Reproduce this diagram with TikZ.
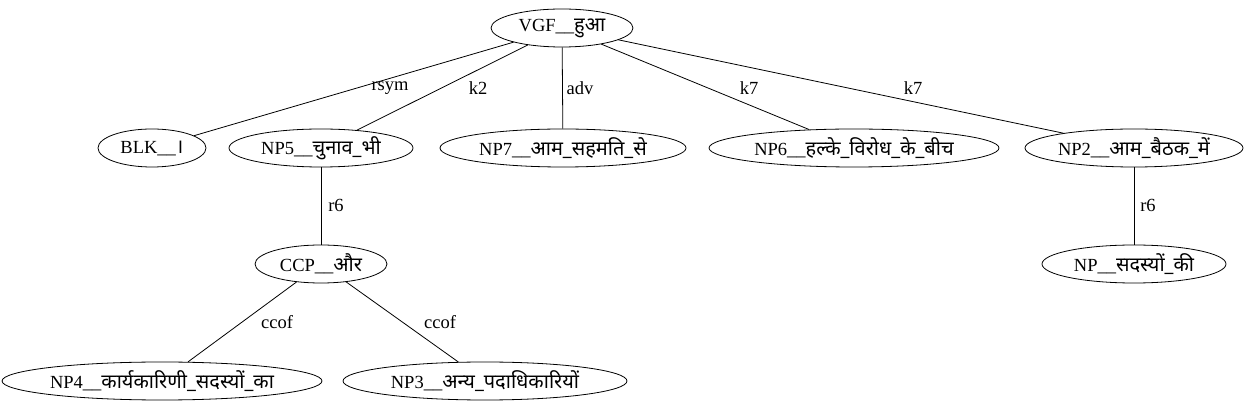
\documentclass[tikz,border=0pt]{standalone}
\usepackage{fontspec}
\setmainfont{Liberation Serif}
\newfontfamily\dev[Script=Devanagari,Scale=1.08]{Noto Sans}
\usetikzlibrary{shapes.geometric}
\tikzset{
  tn/.style={ellipse,draw,line width=0.8pt,inner sep=0pt,minimum height=38pt,font=\fontsize{18.5}{20}\selectfont},
  el/.style={font=\fontsize{18.5}{20}\selectfont,inner sep=1pt},
  ed/.style={line width=0.8pt}
}
\begin{document}
\begin{tikzpicture}[x=1pt,y=-1pt]
\useasboundingbox (0,0) rectangle (1251,411);
\node[tn,minimum width=142pt] (vgf) at (562,28) {VGF\_\_{\dev हुआ}};
\node[tn,minimum width=108pt] (blk) at (152,148) {BLK\_\_{\dev ।}};
\node[tn,minimum width=184pt] (np5) at (321,148) {NP5\_\_{\dev चुनाव\_भी}};
\node[tn,minimum width=246pt] (np7) at (563,148) {NP7\_\_{\dev आम\_सहमति\_से}};
\node[tn,minimum width=290pt] (np6) at (854,148) {NP6\_\_{\dev हल्के\_विरोध\_के\_बीच}};
\node[tn,minimum width=218pt] (np2) at (1134,148) {NP2\_\_{\dev आम\_बैठक\_में}};
\node[tn,minimum width=184pt] (np) at (1134,264) {NP\_\_{\dev सदस्यों\_की}};
\node[tn,minimum width=132pt] (ccp) at (321,264) {CCP\_\_{\dev और}};
\node[tn,minimum width=320pt] (np4) at (162,381) {NP4\_\_{\dev कार्यकारिणी\_सदस्यों\_का}};
\node[tn,minimum width=284pt] (np3) at (485,381) {NP3\_\_{\dev अन्य\_पदाधिकारियों}};
\draw[ed] (vgf) -- (blk);
\draw[ed] (vgf) -- (np5);
\draw[ed] (vgf) -- (np7);
\draw[ed] (vgf) -- (np6);
\draw[ed] (vgf) -- (np2);
\draw[ed] (np5) -- (ccp);
\draw[ed] (np2) -- (np);
\draw[ed] (ccp) -- (np4);
\draw[ed] (ccp) -- (np3);
\node[el] (l1) at (390,88) {rsym};
\node[el] (l2) at (478,88) {k2};
\node[el] (l3) at (580,88) {adv};
\node[el] (l4) at (749,88) {k7};
\node[el] (l5) at (913,88) {k7};
\node[el] (l6) at (336,205) {r6};
\node[el] (l7) at (1148,205) {r6};
\node[el] (l8) at (277,322) {ccof};
\node[el] (l9) at (440,322) {ccof};
\end{tikzpicture}
\end{document}
